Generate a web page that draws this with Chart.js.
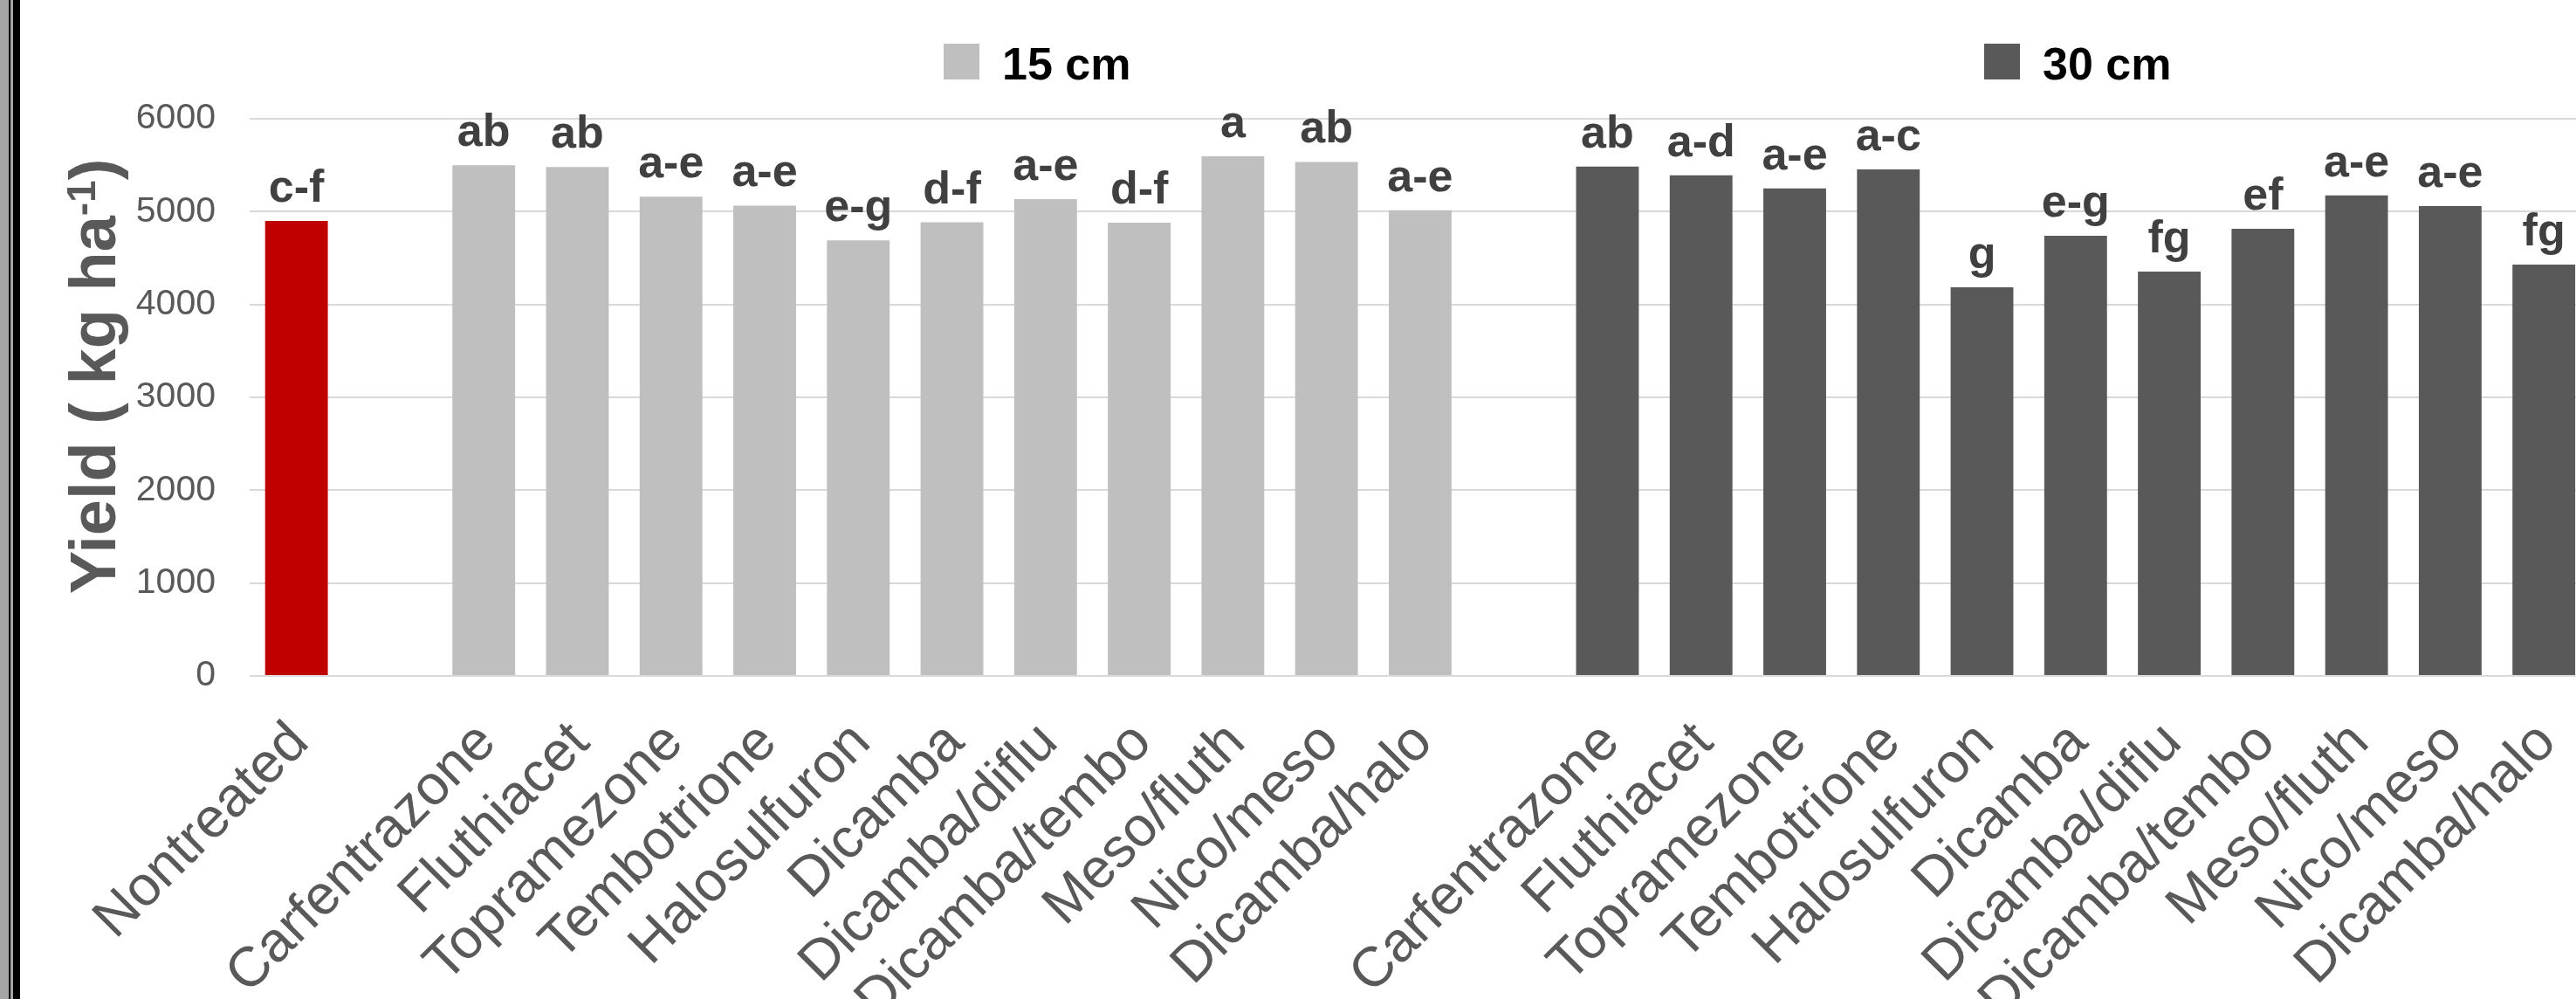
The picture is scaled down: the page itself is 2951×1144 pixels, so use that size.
<!DOCTYPE html>
<html>
<head>
<meta charset="utf-8">
<script src="https://cdn.jsdelivr.net/npm/chart.js@4/dist/chart.umd.min.js"></script>
<style>
  html, body { margin: 0; padding: 0; background: #ffffff; overflow: hidden; }
  #wrap { position: relative; width: 2951px; height: 1144px; overflow: hidden; }
  canvas { display: block; }
</style>
</head>
<body>
<div id="wrap"><canvas id="chart" width="3000" height="1144"></canvas></div>
<script>
// Herbicide treatments, applied at two weed heights
const treatments = ['Carfentrazone', 'Fluthiacet', 'Topramezone', 'Tembotrione', 'Halosulfuron',
  'Dicamba', 'Dicamba/diflu', 'Dicamba/tembo', 'Meso/fluth', 'Nico/meso', 'Dicamba/halo'];

// Grain yield, kg ha-1
const nontreatedYield = 4900;
const yield15 = [5500, 5480, 5160, 5065, 4690, 4885, 5135, 4880, 5595, 5535, 5015];
const yield30 = [5485, 5390, 5250, 5455, 4185, 4740, 4355, 4815, 5175, 5060, 4430];

// Mean separation letters
const nontreatedLetters = 'c-f';
const letters15 = ['ab', 'ab', 'a-e', 'a-e', 'e-g', 'd-f', 'a-e', 'd-f', 'a', 'ab', 'a-e'];
const letters30 = ['ab', 'a-d', 'a-e', 'a-c', 'g', 'e-g', 'fg', 'ef', 'a-e', 'a-e', 'fg'];

const seriesNames = ['15 cm', '30 cm'];
const yTicks = [0, 1000, 2000, 3000, 4000, 5000, 6000];

// Category axis: control, spacer, 15 cm group, spacer, 30 cm group
const categories = ['Nontreated', ''].concat(treatments, [''], treatments);
const n = treatments.length;
const blanks = k => new Array(k).fill(null);
const controlData = [nontreatedYield].concat(blanks(categories.length - 1));
const data15 = blanks(2).concat(yield15, blanks(1 + n));
const data30 = blanks(3 + n).concat(yield30);
const labelsControl = [nontreatedLetters].concat(blanks(categories.length - 1));
const labels15 = blanks(2).concat(letters15, blanks(1 + n));
const labels30 = blanks(3 + n).concat(letters30);

const FONT = '"Liberation Sans", Arial, Helvetica, sans-serif';
const RED = '#c00000', LIGHT = '#bfbfbf', DARK = '#595959';

// Letters above each bar
const letterPlugin = {
  id: 'letters',
  afterDatasetsDraw(chart) {
    const ctx = chart.ctx;
    ctx.save();
    ctx.font = 'bold 52px ' + FONT;
    ctx.fillStyle = '#404040';
    ctx.textAlign = 'center';
    ctx.textBaseline = 'alphabetic';
    chart.data.datasets.forEach((ds, di) => {
      const meta = chart.getDatasetMeta(di);
      meta.data.forEach((bar, i) => {
        const t = ds.letters[i];
        if (t == null || ds.data[i] == null) return;
        ctx.fillText(t, bar.x, bar.y - 22);
      });
    });
    ctx.restore();
  }
};

// Legend spread across the top, one entry per plant height
const legendPlugin = {
  id: 'wideLegend',
  afterDraw(chart) {
    const ctx = chart.ctx;
    const entries = [
      { text: seriesNames[0], color: LIGHT, x: 1081 },
      { text: seriesNames[1], color: DARK, x: 2273 }
    ];
    ctx.save();
    ctx.font = 'bold 52px ' + FONT;
    ctx.textBaseline = 'alphabetic';
    ctx.textAlign = 'left';
    entries.forEach(e => {
      ctx.fillStyle = e.color;
      ctx.fillRect(e.x, 50, 41, 41);
      ctx.fillStyle = '#000000';
      ctx.fillText(e.text, e.x + 67, 91);
    });
    ctx.restore();
  }
};

// Rotated y-axis title with a superscript exponent
const yTitlePlugin = {
  id: 'yTitle',
  afterDraw(chart) {
    const ctx = chart.ctx;
    const main = 'Yield ( kg ha', sup = '-1', close = ')';
    ctx.save();
    ctx.fillStyle = '#595959';
    ctx.textBaseline = 'alphabetic';
    ctx.textAlign = 'left';
    ctx.font = 'bold 74px ' + FONT;
    const w1 = ctx.measureText(main).width;
    const w3 = ctx.measureText(close).width;
    ctx.font = 'bold 46px ' + FONT;
    const w2 = ctx.measureText(sup).width;
    const total = w1 + w2 + w3;
    const cy = 431;
    ctx.translate(132, cy + total / 2);
    ctx.rotate(-Math.PI / 2);
    ctx.font = 'bold 74px ' + FONT;
    ctx.fillText(main, 0, 0);
    ctx.font = 'bold 46px ' + FONT;
    ctx.fillText(sup, w1, -23);
    ctx.font = 'bold 74px ' + FONT;
    ctx.fillText(close, w1 + w2, 0);
    ctx.restore();
  }
};

// Frame lines along the left edge
const framePlugin = {
  id: 'frame',
  afterDraw(chart) {
    const ctx = chart.ctx, h = chart.height;
    ctx.save();
    ctx.fillStyle = '#a6a6a6'; ctx.fillRect(0, 0, 10, h);
    ctx.fillStyle = '#000000'; ctx.fillRect(10, 0, 2, h);
    ctx.fillStyle = '#a6a6a6'; ctx.fillRect(12, 0, 3, h);
    ctx.fillStyle = '#000000'; ctx.fillRect(15, 0, 8, h);
    ctx.restore();
  }
};

new Chart(document.getElementById('chart'), {
  type: 'bar',
  data: {
    labels: categories,
    datasets: [
      { label: 'Nontreated', data: controlData, letters: labelsControl, backgroundColor: RED },
      { label: seriesNames[0], data: data15, letters: labels15, backgroundColor: LIGHT },
      { label: seriesNames[1], data: data30, letters: labels30, backgroundColor: DARK }
    ]
  },
  options: {
    responsive: false,
    devicePixelRatio: 1,
    animation: false,
    datasets: { bar: { grouped: false, barPercentage: 0.67, categoryPercentage: 1.0 } },
    layout: { padding: { top: 136, right: 26.5, left: 0, bottom: 0 } },
    plugins: { legend: { display: false }, tooltip: { enabled: false }, title: { display: false } },
    scales: {
      x: {
        grid: { display: false },
        border: { display: false },
        ticks: {
          autoSkip: false, maxRotation: 45, minRotation: 45, padding: 31, labelOffset: 4,
          color: '#595959', font: { family: FONT, size: 64 }
        },
        afterFit(scale) { scale.height = 370; }
      },
      y: {
        min: 0, max: 6000,
        afterBuildTicks(scale) { scale.ticks = yTicks.map(v => ({ value: v })); },
        grid: { color: '#d9d9d9', lineWidth: 2, drawTicks: false },
        border: { display: false },
        ticks: {
          padding: 39, color: '#595959', font: { family: FONT, size: 41 },
          callback: v => String(v)
        },
        afterFit(scale) { scale.width = 286; }
      }
    }
  },
  plugins: [letterPlugin, legendPlugin, yTitlePlugin, framePlugin]
});
</script>
</body>
</html>
